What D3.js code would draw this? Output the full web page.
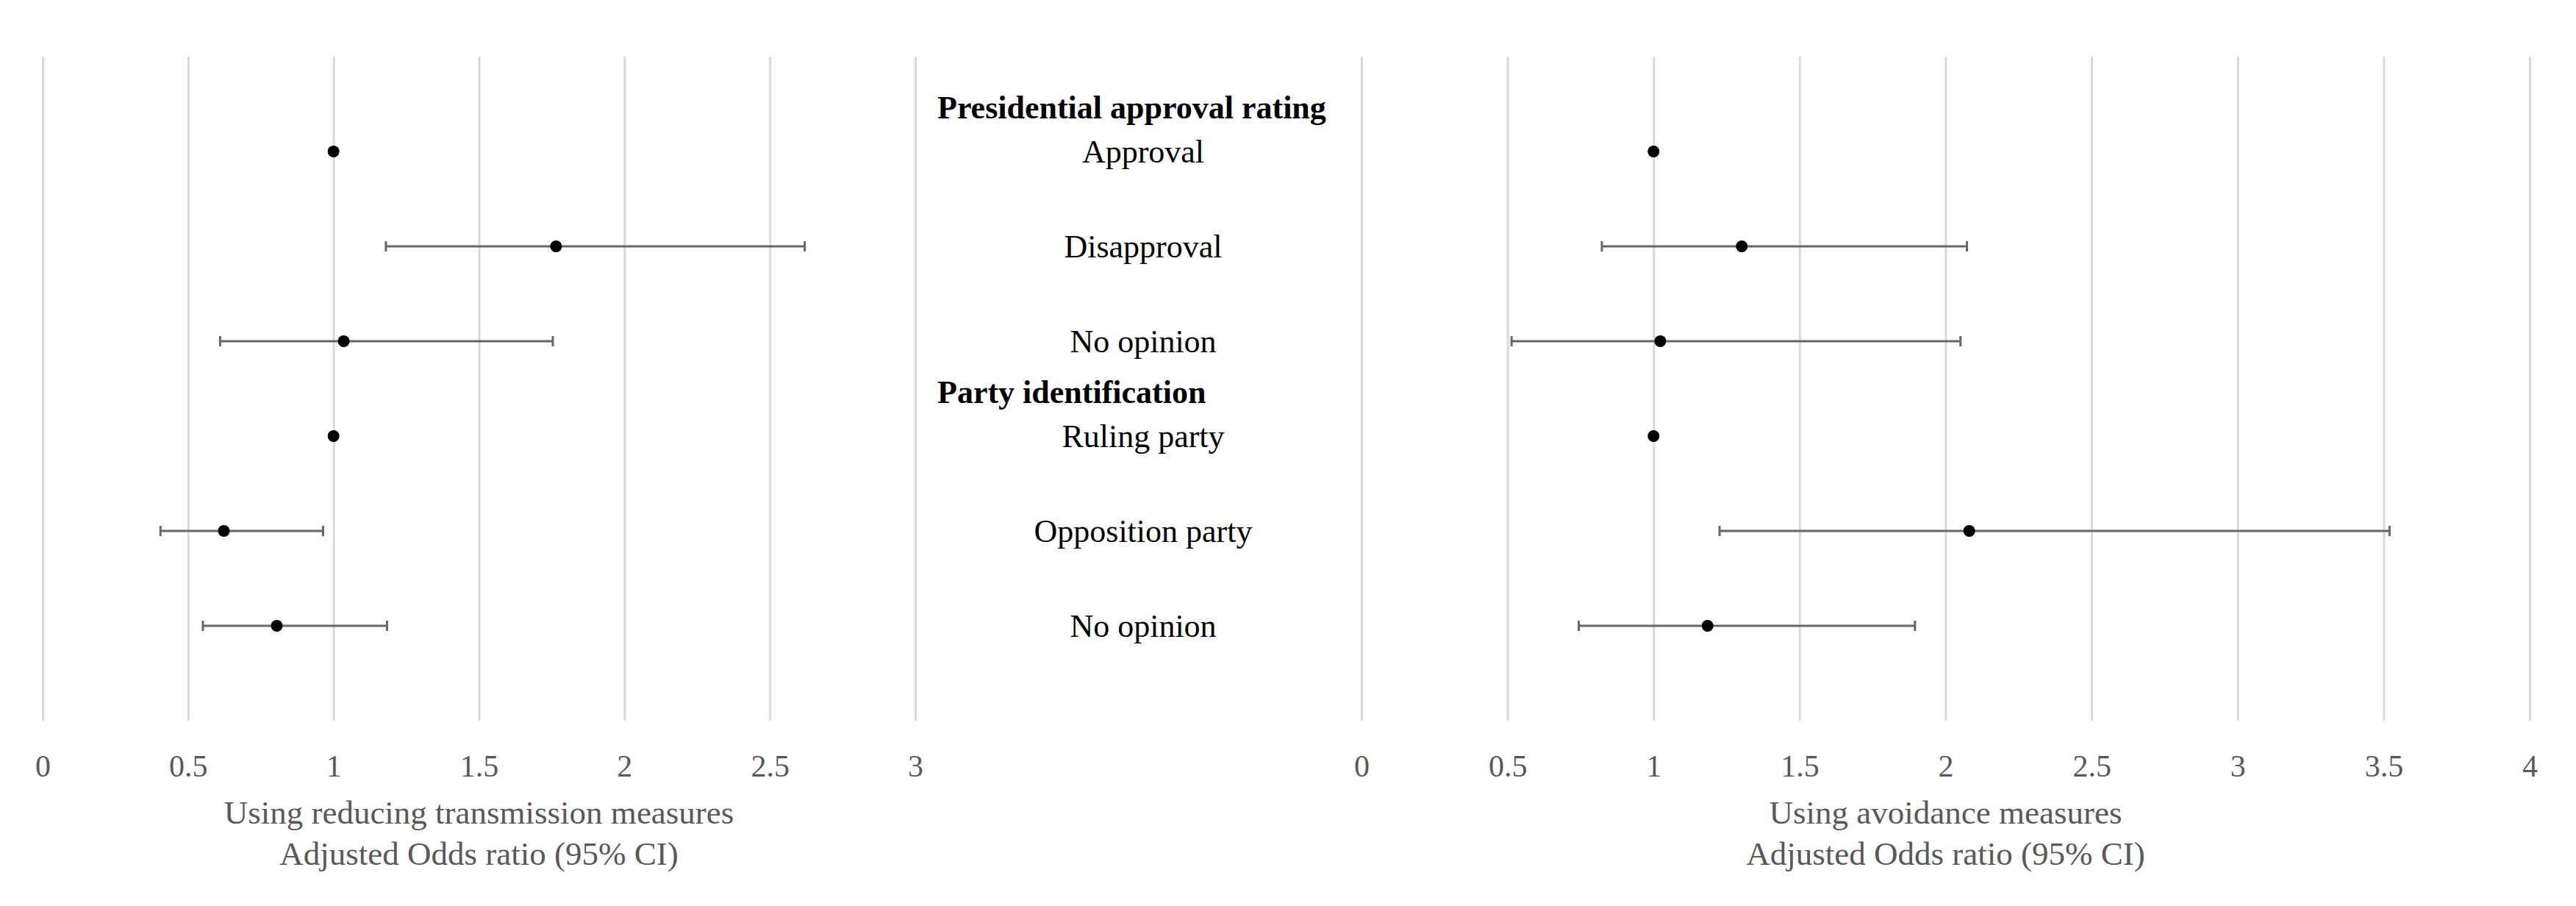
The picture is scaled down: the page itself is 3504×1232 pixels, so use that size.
<!DOCTYPE html>
<html lang="en">
<head>
    <meta charset="UTF-8">
    <title>Adjusted odds ratio forest plot</title>
    <script src="https://cdn.jsdelivr.net/npm/d3@7"></script>
    <style>
        body { margin: 0; background: #fff; }
        text { font-family: "Palatino Linotype", "Book Antiqua", Palatino, "Liberation Serif", serif; }
    </style>
</head>
<body>
<script>
    // row labels (middle column), rows 1..6
    const rowLabels = ["Approval", "Disapproval", "No opinion", "Ruling party", "Opposition party", "No opinion"];
    const groupHeaders = [
        { name: "Presidential approval rating", row: 1 },
        { name: "Party identification", row: 4 }
    ];

    // left panel: using reducing transmission measures
    const leftOR = [1, 1.765, 1.035, 1, 0.623, 0.805];
    const leftLow = [null, 1.18, 0.61, null, 0.405, 0.551];
    const leftHigh = [null, 2.62, 1.754, null, 0.964, 1.184];
    const leftTicks = [0, 0.5, 1, 1.5, 2, 2.5, 3];

    // right panel: using avoidance measures
    const rightOR = [1, 1.302, 1.023, 1, 2.081, 1.185];
    const rightLow = [null, 0.823, 0.514, null, 1.226, 0.744];
    const rightHigh = [null, 2.073, 2.051, null, 3.52, 1.895];
    const rightTicks = [0, 0.5, 1, 1.5, 2, 2.5, 3, 3.5, 4];

    const width = 3504, height = 1232;
    const fontSize = 44;

    const svg = d3.select("body").append("svg")
        .attr("width", width)
        .attr("height", height);

    // shared vertical scale: 7 slots, rows sit on 1..6
    const y = d3.scaleLinear().domain([0, 7]).range([77, 980]);

    const xLeft = d3.scaleLinear().domain([0, 3]).range([58, 1245]);
    const xRight = d3.scaleLinear().domain([0, 4]).range([1852, 3441]);

    function drawPanel(x, ticks, or, low, high, title) {
        const g = svg.append("g");

        // gridlines + tick labels via the axis
        const axis = d3.axisBottom(x)
            .tickValues(ticks)
            .tickFormat(d3.format("~g"))
            .tickSize(-(y(7) - y(0)))
            .tickPadding(0);

        const ax = g.append("g")
            .attr("transform", `translate(0,${y(7)})`)
            .call(axis);
        ax.select(".domain").remove();
        ax.selectAll(".tick line")
            .attr("stroke", "#d9d9d9")
            .attr("stroke-width", 3);
        ax.selectAll(".tick text")
            .attr("y", 61)
            .attr("dy", "0.35em")
            .attr("fill", "#595959")
            .style("font-size", "42px");

        // axis title, two lines
        const mid = (x.range()[0] + x.range()[1]) / 2;
        title.forEach((line, i) => {
            g.append("text")
                .attr("x", mid)
                .attr("y", 1104 + i * 56)
                .attr("dy", "0.35em")
                .attr("text-anchor", "middle")
                .attr("fill", "#595959")
                .style("font-size", "45px")
                .text(line);
        });

        const rows = or.map((v, i) => ({ v, lo: low[i], hi: high[i], row: i + 1 }));
        const ci = rows.filter(d => d.lo != null);

        // whiskers
        g.selectAll(".ci").data(ci).join("line")
            .attr("x1", d => x(d.lo)).attr("x2", d => x(d.hi))
            .attr("y1", d => y(d.row)).attr("y2", d => y(d.row))
            .attr("stroke", "#666").attr("stroke-width", 3);
        g.selectAll(".capL").data(ci).join("line")
            .attr("x1", d => x(d.lo)).attr("x2", d => x(d.lo))
            .attr("y1", d => y(d.row) - 7).attr("y2", d => y(d.row) + 7)
            .attr("stroke", "#666").attr("stroke-width", 3);
        g.selectAll(".capR").data(ci).join("line")
            .attr("x1", d => x(d.hi)).attr("x2", d => x(d.hi))
            .attr("y1", d => y(d.row) - 7).attr("y2", d => y(d.row) + 7)
            .attr("stroke", "#666").attr("stroke-width", 3);

        // points
        g.selectAll("circle").data(rows).join("circle")
            .attr("cx", d => x(d.v))
            .attr("cy", d => y(d.row))
            .attr("r", 8)
            .attr("fill", "#000");
    }

    drawPanel(xLeft, leftTicks, leftOR, leftLow, leftHigh,
        ["Using reducing transmission measures", "Adjusted Odds ratio (95% CI)"]);
    drawPanel(xRight, rightTicks, rightOR, rightLow, rightHigh,
        ["Using avoidance measures", "Adjusted Odds ratio (95% CI)"]);

    // middle label column
    const labelX = 1555;
    svg.append("g").selectAll("text").data(rowLabels).join("text")
        .attr("x", labelX)
        .attr("y", (d, i) => y(i + 1))
        .attr("dy", "0.35em")
        .attr("text-anchor", "middle")
        .attr("fill", "#000")
        .style("font-size", fontSize + "px")
        .text(d => d);

    svg.append("g").selectAll("text").data(groupHeaders).join("text")
        .attr("x", 1275)
        .attr("y", d => y(d.row - 0.47))
        .attr("dy", "0.35em")
        .attr("fill", "#000")
        .style("font-size", fontSize + "px")
        .style("font-weight", "bold")
        .text(d => d.name);
</script>
</body>
</html>
